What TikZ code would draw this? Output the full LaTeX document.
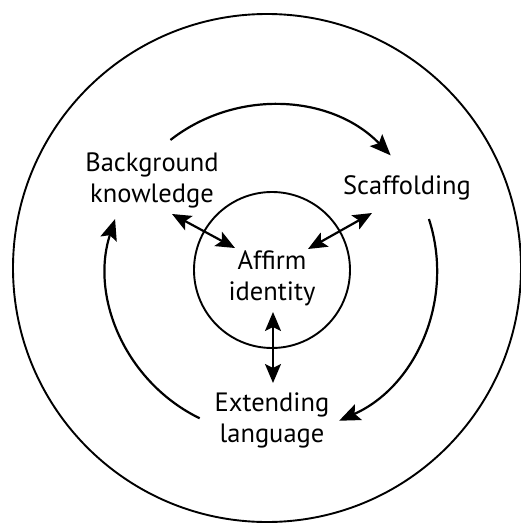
\documentclass[tikz,border=0pt]{standalone}
\usepackage{fontspec}
\setmainfont{PT Sans}
\usetikzlibrary{arrows.meta,calc}

\begin{document}
\begin{tikzpicture}[x=1pt,y=1pt,yscale=-1,xscale=1,
  ring/.style={line width=1.9pt},
  cyc/.style={line width=2.2pt,-{Stealth[length=21pt,width=17pt,inset=4pt]}},
  dbl/.style={line width=2.2pt,{Stealth[length=19pt,width=16pt,inset=4pt]}-{Stealth[length=19pt,width=16pt,inset=4pt]}},
  lbl/.style={align=center,inner sep=0pt,font=\fontsize{26.5}{31}\selectfont}]
\useasboundingbox (0,0) rectangle (521,525);

%Shape: Circle [outer]
\draw [ring] (267,268) circle (254);
%Shape: Circle [inner]
\coordinate (c) at (272,270);
\draw [ring] (c) circle (78);

% Text Node
\node (bk) at (152,180) [lbl] {Background\\knowledge};
% Text Node
\node (sc) at (407,188) [lbl] {Scaffolding};
% Text Node
\node (ai) at (272,278) [lbl] {Affirm\\identity};
% Text Node
\node (el) at (272,420) [lbl] {Extending\\language};

%Arcs round the cycle
\draw [cyc] ($(c)+(-128:165)$) arc [start angle=-128, end angle=-44, radius=165];
\draw [cyc] ($(c)+(-18:165)$) arc [start angle=-18, end angle=66, radius=165];
\draw [cyc] ($(c)+(116:165)$) arc [start angle=116, end angle=198, radius=165];

%Double arrows to the centre
\draw [dbl] ([shift={(20,34)}]bk.center) -- ([shift={(-37,-30)}]ai.center);
\draw [dbl] ([shift={(-35,25)}]sc.center) -- ([shift={(36,-29)}]ai.center);
\draw [dbl] ([shift={(1,34)}]ai.center) -- ([shift={(1,-37)}]el.center);

\end{tikzpicture}
\end{document}
